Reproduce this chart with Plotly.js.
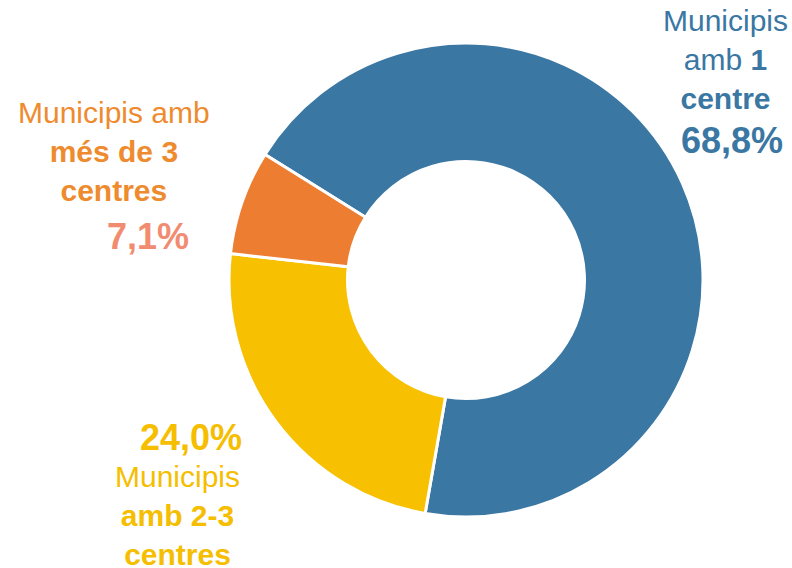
<!DOCTYPE html>
<html>
<head>
<meta charset="utf-8">
<script src="https://cdn.plot.ly/plotly-3.0.1.min.js"></script>
<style>html,body{margin:0;padding:0;background:#fff;}#chart{width:792px;height:568px;}</style>
</head>
<body>
<div id="chart"></div>
<script>
const categories = ["Municipis amb 1 centre", "Municipis amb 2-3 centres", "Municipis amb més de 3 centres"];
const values = [68.8, 24.0, 7.1];
const sliceColors = ["#3A77A3", "#F7C000", "#ED7D31"];
const labelTexts = [
  "Municipis<br>amb <b>1</b><br><b>centre</b>",
  "Municipis<br><b>amb 2-3</b><br><b>centres</b>",
  "Municipis amb<br><b>més de 3</b><br><b>centres</b>"
];
const labelColors = ["#3A77A3", "#F5BE00", "#EE8B2E"];
const pctColors = ["#3A77A3", "#F5BE00", "#F28C70"];

function fmt(v){ return v.toFixed(1).replace('.', ',') + '%'; }

const W = 792, H = 568;
const px = x => x / W;
const py = y => 1 - y / H;

// label positions (pixels): [labelX, labelY, pctX, pctY]
const pos = [
  [725, 60, 732, 140],
  [177, 515, 191, 437],
  [114, 151, 148, 237]
];

const annotations = [];
for (let i = 0; i < categories.length; i++) {
  annotations.push({
    xref: 'paper', yref: 'paper', x: px(pos[i][0]), y: py(pos[i][1]),
    xanchor: 'center', yanchor: 'middle', showarrow: false, align: 'center',
    text: labelTexts[i],
    font: {family: 'Liberation Sans, Arial, sans-serif', size: 30, color: labelColors[i]}
  });
  annotations.push({
    xref: 'paper', yref: 'paper', x: px(pos[i][2]), y: py(pos[i][3]),
    xanchor: 'center', yanchor: 'middle', showarrow: false,
    text: '<b>' + fmt(values[i]) + '</b>',
    font: {family: 'Liberation Sans, Arial, sans-serif', size: 36, color: pctColors[i]}
  });
}

const data = [{
  type: 'pie',
  labels: categories,
  values: values,
  hole: 0.5,
  sort: false,
  direction: 'clockwise',
  rotation: -58,
  textinfo: 'none',
  hoverinfo: 'label+percent',
  marker: {colors: sliceColors, line: {color: '#ffffff', width: 3}},
  domain: {x: [229 / W, 703 / W], y: [1 - 517 / H, 1 - 43 / H]},
  showlegend: false
}];

const layout = {
  width: W, height: H,
  margin: {l: 0, r: 0, t: 0, b: 0},
  paper_bgcolor: '#ffffff',
  plot_bgcolor: '#ffffff',
  showlegend: false,
  annotations: annotations
};

Plotly.newPlot('chart', data, layout, {displayModeBar: false, staticPlot: true});
</script>
</body>
</html>
